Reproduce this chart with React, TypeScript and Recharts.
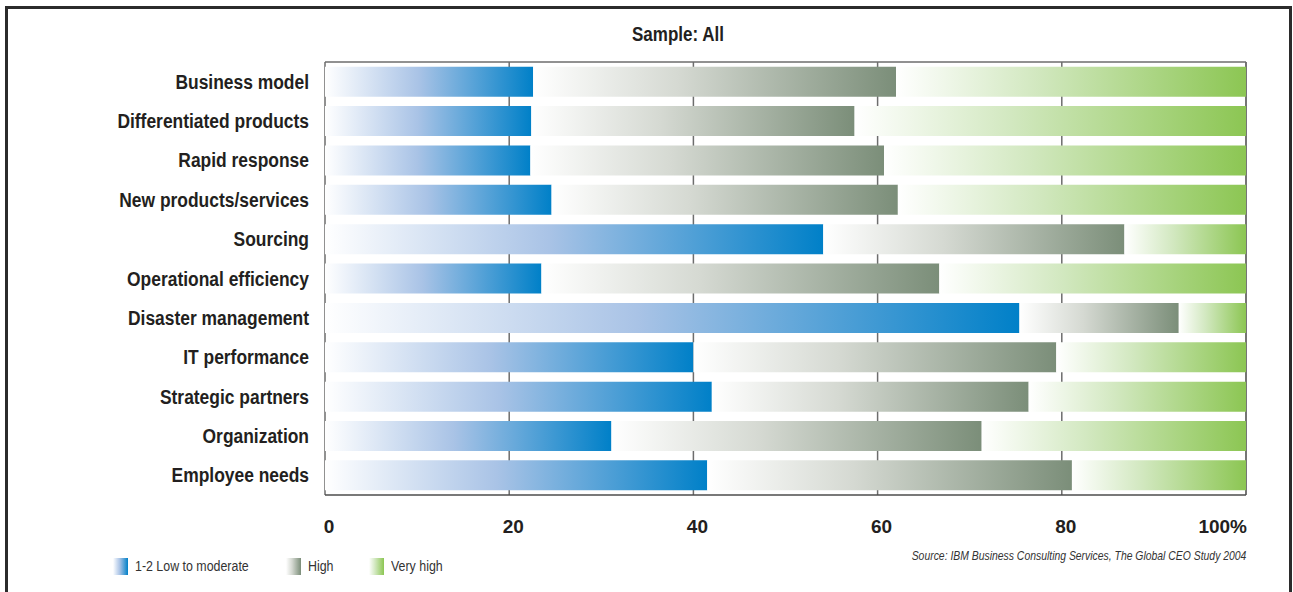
import { BarChart, Bar, XAxis, YAxis, CartesianGrid } from "recharts";

const categories = [
  "Business model",
  "Differentiated products",
  "Rapid response",
  "New products/services",
  "Sourcing",
  "Operational efficiency",
  "Disaster management",
  "IT performance",
  "Strategic partners",
  "Organization",
  "Employee needs",
];
const lowModerate = [22.6, 22.4, 22.3, 24.6, 54.1, 23.5, 75.4, 40.0, 42.0, 31.1, 41.5];
const high = [39.4, 35.1, 38.4, 37.6, 32.7, 43.2, 17.3, 39.4, 34.4, 40.2, 39.6];
const veryHigh = [38.0, 42.5, 39.3, 37.8, 13.2, 33.3, 7.3, 20.6, 23.6, 28.7, 18.9];
const xTicks = [0, 20, 40, 60, 80, 100];

const data = categories.map((name, i) => ({
  name,
  low: lowModerate[i],
  high: high[i],
  veryHigh: veryHigh[i],
}));

// no narrow font installed, so squeeze Liberation Sans horizontally
const sans = "'Liberation Sans', Arial, sans-serif";
const squeeze = 0.8;

const XTick = (props: any) => {
  const { x, y, payload } = props;
  const last = payload.value === 100;
  return (
    <text
      x={last ? x + 1 : x + 4}
      y={y + 30}
      textAnchor={last ? "end" : "middle"}
      fontFamily={sans}
      fontWeight="bold"
      fontSize={19}
      fill="#231f20"
    >
      {last ? "100%" : payload.value}
    </text>
  );
};

const YTick = (props: any) => {
  const { x, y, payload } = props;
  return (
    <text
      transform={`translate(${x - 8},${y + 7}) scale(0.83,1)`}
      textAnchor="end"
      fontFamily={sans}
      fontWeight="bold"
      fontSize={21}
      fill="#231f20"
    >
      {payload.value}
    </text>
  );
};

const legendItems = [
  { label: "1-2 Low to moderate", left: 113, grad: "linear-gradient(to right, #ffffff, #a9c3e6 45%, #0080c8)" },
  { label: "High", left: 286, grad: "linear-gradient(to right, #ffffff, #d5d9d2 40%, #7b8e79)" },
  { label: "Very high", left: 369, grad: "linear-gradient(to right, #ffffff, #d2e8c0 40%, #8cc653)" },
];

export default function App() {
  return (
    <div style={{ position: "absolute", left: 0, top: 0, width: 1293, height: 592, overflow: "hidden", background: "#fff" }}>
      <div
        style={{
          position: "absolute",
          left: 5,
          top: 6,
          width: 1281,
          height: 600,
          borderTop: "3px solid #2b2b2b",
          borderLeft: "3px solid #2b2b2b",
          borderRight: "3px solid #2b2b2b",
        }}
      />
      <div
        style={{
          position: "absolute",
          left: 578,
          top: 23,
          width: 200,
          textAlign: "center",
          fontFamily: sans,
          fontWeight: "bold",
          fontSize: 20,
          color: "#231f20",
          transform: "scaleX(0.85)",
        }}
      >
        Sample: All
      </div>
      <div style={{ position: "absolute", left: 0, top: 0 }}>
        <BarChart
          width={1293}
          height={592}
          data={data}
          layout="vertical"
          barCategoryGap="12%"
          margin={{ top: 62, right: 47, left: 0, bottom: 57 }}
        >
          <defs>
            <linearGradient id="gBlue" x1="0" y1="0" x2="1" y2="0">
              <stop offset="0%" stopColor="#ffffff" />
              <stop offset="45%" stopColor="#a9c3e6" />
              <stop offset="100%" stopColor="#0080c8" />
            </linearGradient>
            <linearGradient id="gGray" x1="0" y1="0" x2="1" y2="0">
              <stop offset="0%" stopColor="#ffffff" />
              <stop offset="40%" stopColor="#d5d9d2" />
              <stop offset="100%" stopColor="#7b8e79" />
            </linearGradient>
            <linearGradient id="gGreen" x1="0" y1="0" x2="1" y2="0">
              <stop offset="0%" stopColor="#ffffff" />
              <stop offset="40%" stopColor="#d2e8c0" />
              <stop offset="100%" stopColor="#8cc653" />
            </linearGradient>
          </defs>
          <CartesianGrid
            stroke="#6d6d6d"
            strokeWidth={1.5}
            horizontalCoordinatesGenerator={({ offset }: any) => [offset.top]}
          />
          <XAxis
            type="number"
            domain={[0, 100]}
            ticks={xTicks}
            height={40}
            axisLine={{ stroke: "#4d4d4d", strokeWidth: 1.5 }}
            tickLine={false}
            tick={<XTick />}
            interval={0}
          />
          <YAxis
            type="category"
            dataKey="name"
            width={325}
            axisLine={false}
            tickLine={false}
            tick={<YTick />}
            interval={0}
          />
          <Bar dataKey="low" stackId="a" fill="url(#gBlue)" isAnimationActive={false} />
          <Bar dataKey="high" stackId="a" fill="url(#gGray)" isAnimationActive={false} />
          <Bar dataKey="veryHigh" stackId="a" fill="url(#gGreen)" isAnimationActive={false} />
        </BarChart>
      </div>
      <div
        style={{
          position: "absolute",
          right: 47,
          top: 548,
          fontFamily: sans,
          fontStyle: "italic",
          fontSize: 13,
          color: "#333",
          whiteSpace: "nowrap",
          transform: `scaleX(${squeeze})`,
          transformOrigin: "right center",
        }}
      >
        Source: IBM Business Consulting Services, The Global CEO Study 2004
      </div>
      {legendItems.map((it) => (
        <div key={it.label} style={{ position: "absolute", left: it.left, top: 557, display: "flex", alignItems: "center" }}>
          <div style={{ width: 15, height: 17, background: it.grad, marginRight: 7 }} />
          <span
            style={{
              fontFamily: sans,
              fontSize: 15.5,
              color: "#333",
              whiteSpace: "nowrap",
              display: "inline-block",
              transform: `scaleX(${squeeze})`,
              transformOrigin: "left center",
            }}
          >
            {it.label}
          </span>
        </div>
      ))}
    </div>
  );
}
